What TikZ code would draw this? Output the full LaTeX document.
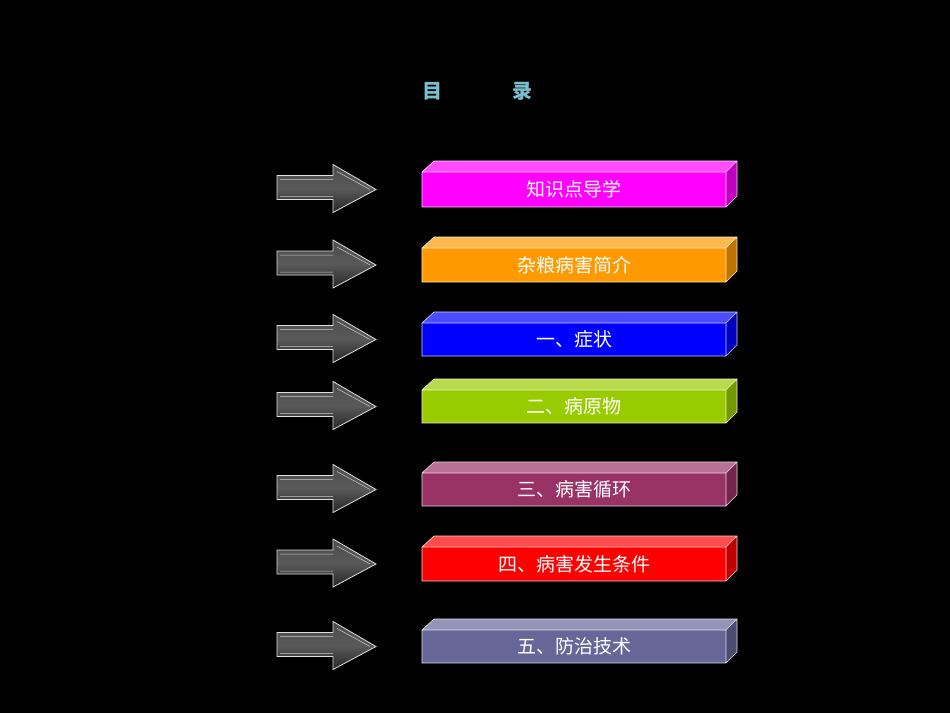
\documentclass[tikz,border=0pt]{standalone}
\usepackage{fontspec}
\newfontfamily\cjk{Noto Sans CJK SC}
\begin{document}
\begin{tikzpicture}[x=1pt,y=-1pt,
  lbl/.style={font=\cjk\fontsize{19}{19}\selectfont,text=white},
  arr/.style={draw=white!75!gray,line width=0.8pt,top color=gray!60!black,bottom color=black!85,middle color=gray!70!black}]
\fill[black] (0,0) rectangle (950,713);
\useasboundingbox (0,0) rectangle (950,713);
\node[font=\cjk\bfseries\fontsize{20}{20}\selectfont,text=blue!15!cyan!40!white!80!black] (t1) at (432,91) {目};
\node[font=\cjk\bfseries\fontsize{20}{20}\selectfont,text=blue!15!cyan!40!white!80!black] (t2) at (522,91) {录};
\def\bx#1#2#3#4#5{%
  % #1 top y, #2 bottom y, #3 color, #4 text, #5 name
  \fill[#3!70!white] (422,#1) -- (434,#1-11) -- (737,#1-11) -- (726,#1) -- cycle;
  \fill[#3!75!black] (726,#1) -- (737,#1-11) -- (737,#2-11) -- (726,#2) -- cycle;
  \fill[#3] (422,#1) rectangle (726,#2);
  \draw[white!80!#3,line width=0.6pt] (422,#1) -- (434,#1-11) -- (737,#1-11) -- (737,#2-11) -- (726,#2) -- (422,#2) -- cycle (422,#1) -- (726,#1) -- (737,#1-11) (726,#1) -- (726,#2);
  \node[lbl] (#5) at (574,{(#1+#2)/2}) {#4};
  \pgfmathsetmacro\cy{(#1+#2)/2}
  \draw[arr] (277,\cy-14) -- (333,\cy-14) -- (333,\cy-25) -- (376,\cy) -- (333,\cy+23) -- (333,\cy+10) -- (277,\cy+10) -- cycle;
  \draw[white!60!gray,line width=0.5pt] (280,\cy-10) -- (333,\cy-10) (280,\cy+7) -- (333,\cy+7) (337,\cy-18) -- (370,\cy);
}
\definecolor{c1}{HTML}{FF00FF}\definecolor{c2}{HTML}{FF9900}\definecolor{c3}{HTML}{0000FF}
\definecolor{c4}{HTML}{99CC00}\definecolor{c5}{HTML}{993366}\definecolor{c6}{HTML}{FF0000}\definecolor{c7}{HTML}{666699}
\bx{172}{207}{c1}{知识点导学}{b1}
\bx{248}{282}{c2}{杂粮病害简介}{b2}
\bx{323}{356}{c3}{一、症状}{b3}
\bx{390}{423}{c4}{二、病原物}{b4}
\bx{473}{506}{c5}{三、病害循环}{b5}
\bx{547}{581}{c6}{四、病害发生条件}{b6}
\bx{630}{663}{c7}{五、防治技术}{b7}
\end{tikzpicture}
\end{document}
